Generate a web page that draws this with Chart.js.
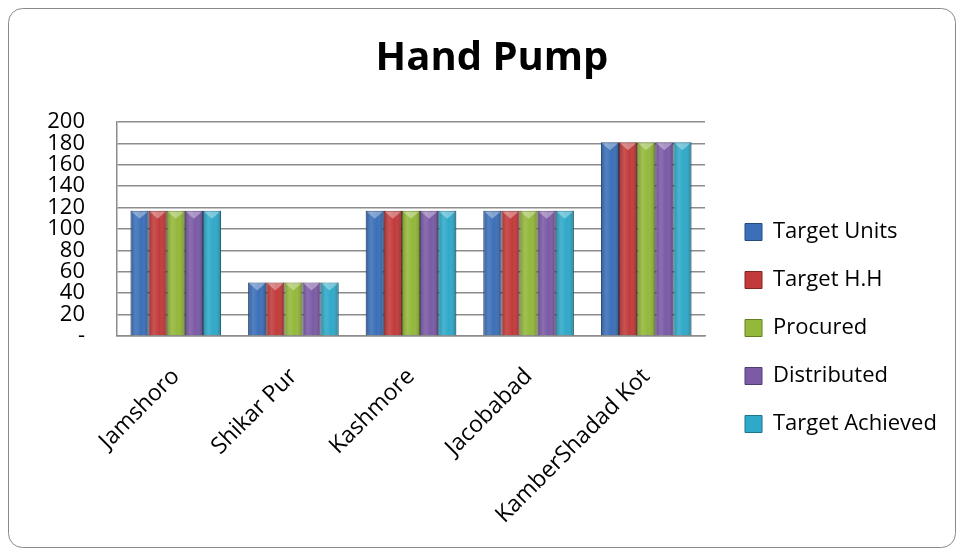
<!DOCTYPE html>
<html>
<head>
<meta charset="utf-8">
<script src="https://cdn.jsdelivr.net/npm/chart.js@4/dist/chart.umd.min.js"></script>
<style>
html,body{margin:0;padding:0;background:#fff;}
#wrap{width:964px;height:556px;position:relative;}
</style>
</head>
<body>
<div id="wrap"><canvas id="c" width="964" height="556"></canvas></div>
<script>
const categories = ['Jamshoro', 'Shikar Pur', 'Kashmore', 'Jacobabad', 'KamberShadad Kot'];
const targetUnits = [117, 50, 117, 117, 181];
const targetHH = [117, 50, 117, 117, 181];
const procured = [117, 50, 117, 117, 181];
const distributed = [117, 50, 117, 117, 181];
const targetAchieved = [117, 50, 117, 117, 181];
const seriesNames = ['Target Units', 'Target H.H', 'Procured', 'Distributed', 'Target Achieved'];
const yTicks = [0, 20, 40, 60, 80, 100, 120, 140, 160, 180, 200];

const colors = ['#3b6fb8', '#c23a3a', '#93b83a', '#7b5aa6', '#2fa9c9'];
const borders = ['#244a80', '#842525', '#62801f', '#533c75', '#1c7590'];
const FONT = '"Open Sans", Lato, "Liberation Sans", sans-serif';

const frame = {
  id: 'frame',
  beforeDraw(chart) {
    const c = chart.ctx;
    c.save();
    c.fillStyle = '#fff';
    c.fillRect(0, 0, chart.width, chart.height);
    c.beginPath();
    c.roundRect(8.5, 8.5, 947, 539, 14);
    c.strokeStyle = '#8a8a8a';
    c.lineWidth = 1;
    c.stroke();
    c.restore();
  }
};

const legendShift = {
  id: 'legendShift',
  afterLayout(chart) {
    const lg = chart.legend;
    if (lg) { lg.top += 50; lg.bottom += 50; }
  }
};

const shade = {
  id: 'shade',
  afterDatasetsDraw(chart) {
    const c = chart.ctx;
    chart.data.datasets.forEach((ds, di) => {
      const meta = chart.getDatasetMeta(di);
      meta.data.forEach(bar => {
        const left = bar.x - bar.width / 2, w = bar.width;
        const top = bar.y, h = bar.base - bar.y;
        const g = c.createLinearGradient(left, 0, left + w, 0);
        g.addColorStop(0, 'rgba(0,0,0,0.18)');
        g.addColorStop(0.3, 'rgba(255,255,255,0.12)');
        g.addColorStop(0.6, 'rgba(255,255,255,0.0)');
        g.addColorStop(1, 'rgba(0,0,0,0.25)');
        c.save();
        c.fillStyle = g;
        c.fillRect(left, top, w, h);
        c.beginPath();
        c.moveTo(left + 1, top + 1);
        c.lineTo(left + w - 1, top + 1);
        c.lineTo(left + w / 2, top + Math.min(8, h / 2));
        c.closePath();
        c.fillStyle = 'rgba(255,255,255,0.35)';
        c.fill();
        c.restore();
      });
    });
  }
};

const data = {
  labels: categories,
  datasets: [targetUnits, targetHH, procured, distributed, targetAchieved].map((d, i) => ({
    label: seriesNames[i],
    data: d,
    backgroundColor: colors[i],
    borderColor: borders[i],
    borderWidth: 1,
    barPercentage: 1.0,
    categoryPercentage: 0.77,
    yAxisID: 'y'
  }))
};

new Chart(document.getElementById('c'), {
  type: 'bar',
  data,
  plugins: [frame, legendShift, shade],
  options: {
    responsive: false,
    animation: false,
    layout: { padding: { left: 40, right: 20, top: 10, bottom: 10 } },
    plugins: {
      title: {
        display: true,
        text: 'Hand Pump',
        color: '#000',
        font: { family: FONT, size: 40, weight: 'bold', lineHeight: 1.2 },
        padding: { top: 25, bottom: 39 }
      },
      legend: {
        position: 'right',
        align: 'center',
        maxWidth: 225,
        labels: {
          color: '#000',
          font: { family: FONT, size: 22 },
          boxWidth: 17,
          boxHeight: 17,
          padding: 26
        }
      },
      tooltip: { enabled: false }
    },
    scales: {
      y: {
        min: 0,
        max: 200,
        afterBuildTicks(axis) { axis.ticks = yTicks.map(v => ({ value: v })); },
        afterFit(scale) { scale.width = 77; },
        ticks: {
          color: '#000',
          font: { family: FONT, size: 22, lineHeight: 1 },
          padding: 32,
          autoSkip: false,
          callback: v => (v === 0 ? '-' : v)
        },
        grid: { color: '#8c8c8c', lineWidth: 1.5, drawTicks: false },
        border: { color: '#8c8c8c', width: 1.5 }
      },
      gap: {
        position: 'right',
        display: true,
        afterFit(scale) { scale.width = 14; },
        ticks: { display: false },
        grid: { display: false, drawTicks: false },
        border: { display: false }
      },
      x: {
        afterFit(scale) { scale.height = 210; },
        ticks: {
          color: '#000',
          font: { family: FONT, size: 23 },
          maxRotation: 45,
          minRotation: 45,
          autoSkip: false,
          padding: 19
        },
        grid: { display: false },
        border: { color: '#8c8c8c', width: 1.5 }
      }
    }
  }
});
</script>
</body>
</html>
